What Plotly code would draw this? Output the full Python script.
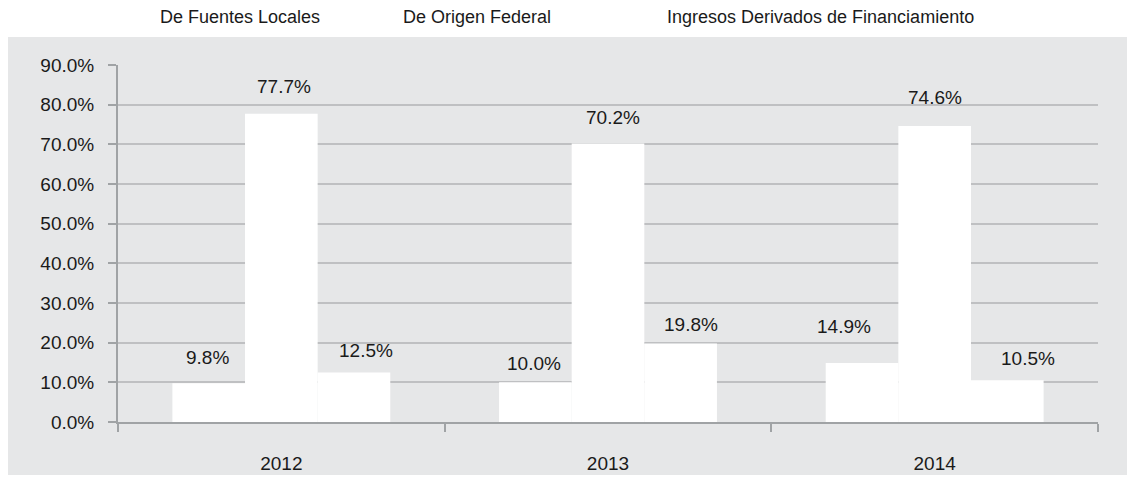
import plotly.graph_objects as go

years = ["2012", "2013", "2014"]
series_names = ["De Fuentes Locales", "De Origen Federal", "Ingresos Derivados de Financiamiento"]
locales = [9.8, 10.0, 14.9]
federal = [77.7, 70.2, 74.6]
financiamiento = [12.5, 19.8, 10.5]
y_ticks = [0, 10, 20, 30, 40, 50, 60, 70, 80, 90]
y_tick_labels = ["0.0%", "10.0%", "20.0%", "30.0%", "40.0%", "50.0%", "60.0%", "70.0%", "80.0%", "90.0%"]

# style: manual label nudges (px right, px of label centre above bar top), per series/year
label_nudges = [
    [(-1, 26), (-1, 19), (-18, 36)],
    [(3, 27), (5, 26), (0, 29)],
    [(12, 22), (10, 18.5), (21, 22)],
]

FONT = "Liberation Sans, Arial, sans-serif"
GRAY = "#E6E7E8"
TXT = "#1a1a1a"

# page body adds an 8px offset; figure sized to fit the window
OFF = 8
W, H = 1135 - OFF, 477 - OFF
L, T = 118 - OFF, 65 - OFF
R = W - (1098 - OFF)
B = H - (422 - OFF)
pw, ph = W - L - R, H - T - B

def px_x(px):
    return (px - OFF - L) / pw

def px_y(py):
    return (H - B - (py - OFF)) / ph

series_vals = [locales, federal, financiamiento]
legend_ids = ["legend", "legend2", "legend3"]
legend_text_x = [161, 404, 668]

fig = go.Figure()
for i, (name, vals) in enumerate(zip(series_names, series_vals)):
    fig.add_trace(go.Bar(
        x=years, y=vals, name=name,
        marker=dict(color="white", line=dict(width=0)),
        legend=legend_ids[i],
    ))

# data labels
n = len(series_vals)
bargap = 0.333
cat_px = pw / len(years)
bar_px = cat_px * (1 - bargap) / n
for i, vals in enumerate(series_vals):
    off = (i - (n - 1) / 2) * bar_px
    for k, v in enumerate(vals):
        dx, above = label_nudges[i][k]
        fig.add_annotation(
            x=k, y=v, xref="x", yref="y", text=f"{v:.1f}%",
            showarrow=False, xshift=off + dx, yanchor="bottom",
            yshift=above - 12.5,
            font=dict(family=FONT, size=19, color=TXT),
        )

# background panel
fig.add_shape(type="rect", xref="paper", yref="paper",
              x0=px_x(OFF), x1=px_x(1134), y0=px_y(475), y1=px_y(37),
              fillcolor=GRAY, line=dict(width=0), layer="below")

legend_common = dict(orientation="h", yanchor="middle", xanchor="left",
                     font=dict(family=FONT, size=18, color=TXT),
                     bgcolor="rgba(0,0,0,0)", itemwidth=30)
layout_legends = {}
for lid, tx in zip(legend_ids, legend_text_x):
    layout_legends[lid] = dict(legend_common, x=px_x(tx - 41), y=px_y(16))

fig.update_layout(
    width=W, height=H,
    margin=dict(l=L, r=R, t=T, b=B, autoexpand=False),
    paper_bgcolor="white",
    plot_bgcolor=GRAY,
    barmode="group", bargap=bargap, bargroupgap=0,
    font=dict(family=FONT, size=19, color=TXT),
    showlegend=True,
    **layout_legends,
)
fig.update_xaxes(
    type="category", range=[-0.5, len(years) - 0.5], tickson="boundaries",
    ticks="outside", ticklen=8, tickangle=0,
    tickwidth=2, tickcolor="#A0A3A5", showline=True, linecolor="#A0A3A5",
    linewidth=2, showgrid=False, ticklabelstandoff=23, automargin=False,
    tickfont=dict(family=FONT, size=19, color=TXT),
)
fig.update_yaxes(
    range=[0, 90], tickvals=y_ticks, ticktext=y_tick_labels,
    ticks="outside", ticklen=8, tickwidth=2, tickcolor="#A0A3A5",
    showline=True, linecolor="#A0A3A5", linewidth=2,
    showgrid=True, gridcolor="#BFC0C2", gridwidth=2, zeroline=False,
    ticklabelstandoff=10, automargin=False,
    tickfont=dict(family=FONT, size=19, color=TXT),
)

fig.write_html("out.html")
